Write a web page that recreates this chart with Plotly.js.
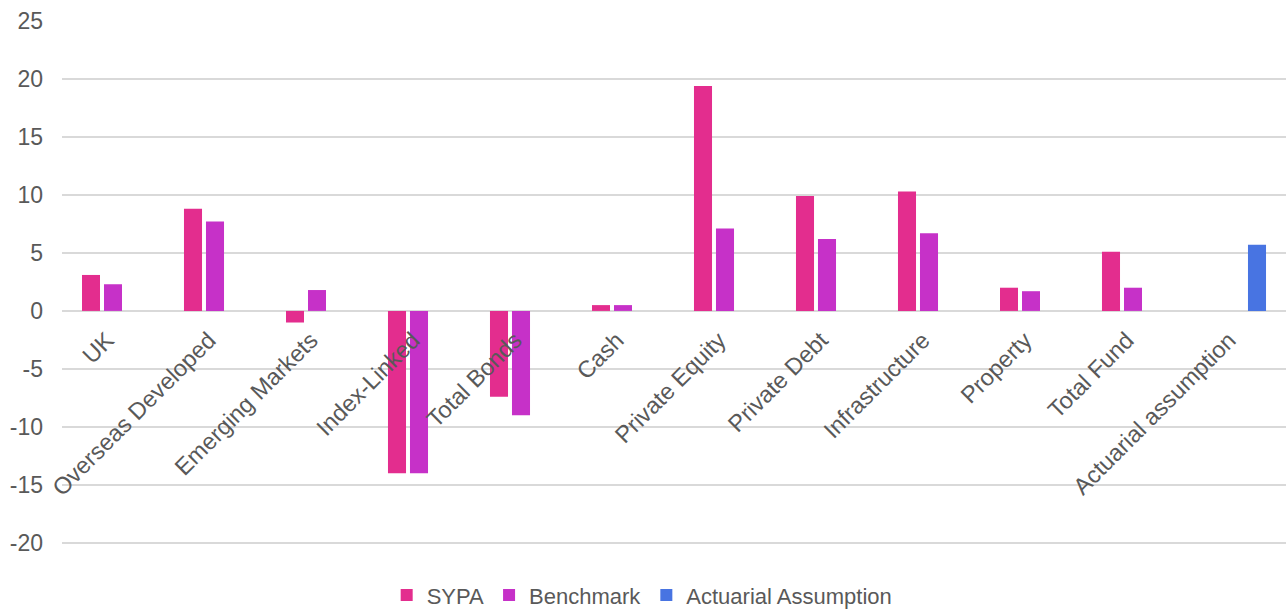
<!DOCTYPE html>
<html>
<head>
<meta charset="utf-8">
<script src="https://cdn.plot.ly/plotly-3.0.1.min.js"></script>
<style>
  html, body { margin: 0; padding: 0; background: #ffffff; }
  #chart { width: 1288px; height: 609px; }
</style>
</head>
<body>
<div id="chart"></div>
<script>
// Asset classes shown along the category axis
const categories = [
  'UK', 'Overseas Developed', 'Emerging Markets', 'Index-Linked',
  'Total Bonds', 'Cash', 'Private Equity', 'Private Debt',
  'Infrastructure', 'Property', 'Total Fund', 'Actuarial assumption'
];

// Returns (%) for the fund and its benchmark, one per asset class
const sypaCategories = categories.slice(0, 11);
const sypaValues      = [3.1, 8.8, -1.0, -14.0, -7.4, 0.5, 19.4, 9.9, 10.3, 2.0, 5.1];
const benchmarkValues = [2.3, 7.7, 1.8, -14.0, -9.0, 0.5, 7.1, 6.2, 6.7, 1.7, 2.0];

// Actuarial assumption (single value)
const actuarialCategories = ['Actuarial assumption'];
const actuarialValues     = [5.7];

// Value axis ticks
const yTickValues = [-20, -15, -10, -5, 0, 5, 10, 15, 20, 25];

// Slight pad below -20 so its gridline stays inside the plot
const yMin = -20.1, yMax = 25;
const textColor = '#595959';
const fontFamily = '"Liberation Sans", Arial, sans-serif';

const traces = [
  {
    type: 'bar', name: 'SYPA',
    x: sypaCategories, y: sypaValues,
    marker: { color: '#E32D8E' }
  },
  {
    type: 'bar', name: 'Benchmark',
    x: sypaCategories, y: benchmarkValues,
    marker: { color: '#C631C8' }
  },
  {
    type: 'bar', name: 'Actuarial Assumption',
    x: actuarialCategories, y: actuarialValues,
    marker: { color: '#4874E2' }
  }
];

const layout = {
  width: 1288, height: 609,
  paper_bgcolor: '#ffffff', plot_bgcolor: '#ffffff',
  margin: { l: 62, r: 2, t: 21, b: 65, autoexpand: false },
  font: { family: fontFamily, color: textColor },
  barmode: 'group',
  bargap: 0.353,
  bargroupgap: 0.18,
  showlegend: true,
  legend: {
    orientation: 'h',
    x: 0.474, xanchor: 'center',
    y: -0.098, yanchor: 'middle',
    font: { size: 22, color: textColor },
    itemwidth: 30,
    tracegroupgap: 0,
    itemclick: false
  },
  xaxis: {
    type: 'category',
    categoryorder: 'array',
    categoryarray: categories,
    anchor: 'free',
    position: (0 - yMin) / (yMax - yMin),
    tickangle: -45,
    ticks: '',
    showgrid: false,
    showline: false,
    zeroline: false,
    ticklabelstandoff: 10,
    ticklabelshift: -6,
    tickfont: { size: 23.5, color: textColor }
  },
  yaxis: {
    range: [yMin, yMax],
    tickvals: yTickValues,
    ticktext: yTickValues.map(v => String(v)),
    showgrid: true,
    gridcolor: '#D9D9D9',
    gridwidth: 2,
    zeroline: false,
    showline: false,
    ticks: '',
    ticklabelstandoff: 18,
    tickfont: { size: 23, color: textColor }
  }
};

Plotly.newPlot('chart', traces, layout, { displayModeBar: false, staticPlot: true });
</script>
</body>
</html>
